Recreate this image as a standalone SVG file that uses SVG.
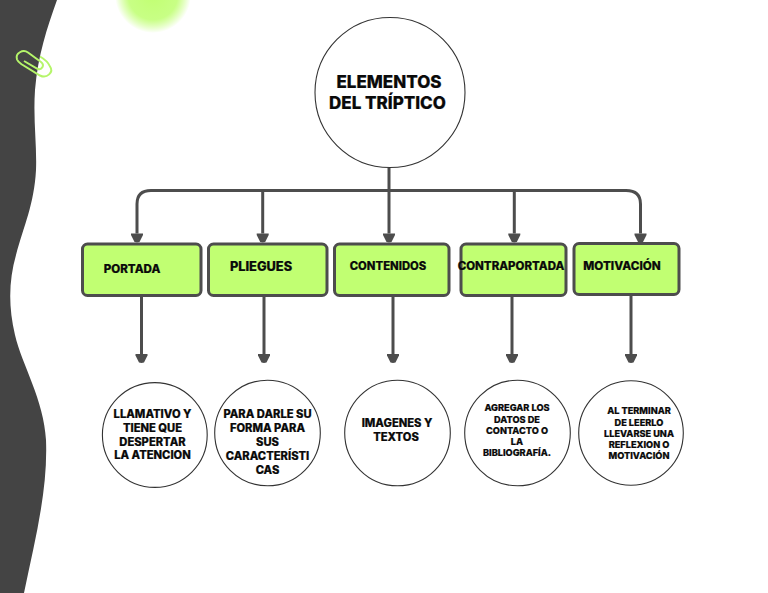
<svg xmlns="http://www.w3.org/2000/svg" width="768" height="593" viewBox="0 0 768 593">
<style>
.box{fill:#c1ff72;stroke:#4d4d4d;stroke-width:3}
.circ{fill:#fff;stroke:#333;stroke-width:1.1}
.con{fill:none;stroke:#4d4d4d;stroke-width:3}
text{font-family:"Inter","Liberation Sans",sans-serif;font-weight:800;fill:#0a0a0a;text-anchor:middle;stroke:#0a0a0a;stroke-width:.2}
.clip{fill:none;stroke:#b5f56a;stroke-width:2}
</style>
<defs>
<marker id="arrow" markerUnits="userSpaceOnUse" markerWidth="12" markerHeight="14" refX="0" refY="7" orient="auto" overflow="visible"><path d="M0 1L1.500 1L8.500 4.500L9 7L8.500 9.500L1.500 13L0 13Z" fill="#4d4d4d"/></marker>
<radialGradient id="glow"><stop offset="0" stop-color="#c1ff72"/><stop offset=".65" stop-color="#c8ff85"/><stop offset="1" stop-color="#c1ff72" stop-opacity="0"/></radialGradient>
</defs>
<rect width="768" height="593" fill="#fff"/>
<path id="sidebar" d="M0 0H57C47 28 38 55 35 90C33 120 37 145 36 170C34 205 24 225 16 255C9 280 8 305 15 335C22 365 44 400 46 440C48 490 35 540 24 593H0Z" fill="#444"/>
<circle id="glow-blob" cx="153" cy="-5" r="38" fill="url(#glow)"/>
<g id="paperclip" class="clip">
<path d="M24 61L37 68.500C42 71 45 65 41 62L28 52.500C23 49 15 53 17 59.500C18 62 20 63 22 64.500L40 75.500C47 79 54 72 50 66.500C49 64 46 60 40 56.500"/>
</g>
<g id="connectors" class="con">
<path d="M389 168V233.500" marker-end="url(#arrow)"/>
<path d="M151 190.500H626Q640.500 190.500 640.500 204V233.500" marker-end="url(#arrow)"/>
<path d="M151 190.500Q137 190.500 137 204V233.500" marker-end="url(#arrow)"/>
<path d="M262.700 190.500V233.500" marker-end="url(#arrow)"/>
<path d="M514.300 190.500V233.500" marker-end="url(#arrow)"/>
<path d="M141.500 296V354" marker-end="url(#arrow)"/>
<path d="M264 296V354" marker-end="url(#arrow)"/>
<path d="M393 296V354" marker-end="url(#arrow)"/>
<path d="M512 296V354" marker-end="url(#arrow)"/>
<path d="M631 296V354" marker-end="url(#arrow)"/>
</g>
<g id="root"><circle class="circ" cx="390" cy="92.500" r="75"/><text font-size="17" x="389" y="88">ELEMENTOS</text><text font-size="17" x="387.500" y="109">DEL TRÍPTICO</text></g>
<g id="n1"><rect class="box" x="82.500" y="244" width="118.500" height="51.500" rx="5"/><text font-size="11.600" x="132" y="272.500">PORTADA</text></g>
<g id="n2"><rect class="box" x="208.500" y="244" width="118.500" height="51.500" rx="5"/><text font-size="12.800" x="261" y="271">PLIEGUES</text></g>
<g id="n3"><rect class="box" x="334.500" y="244" width="114.500" height="51.500" rx="5"/><text font-size="11.300" x="388" y="270">CONTENIDOS</text></g>
<g id="n4"><rect class="box" x="461" y="244" width="105" height="51.500" rx="5"/><text font-size="11.500" x="511" y="270">CONTRAPORTADA</text></g>
<g id="n5"><rect class="box" x="574" y="243.500" width="105" height="51" rx="5"/><text font-size="11.700" x="622" y="270">MOTIVACIÓN</text></g>
<g id="c1"><circle class="circ" cx="154.800" cy="435" r="52.400"/><text font-size="11.200" x="152.500" y="418">LLAMATIVO Y</text><text font-size="11.200" x="152.500" y="432">TIENE QUE</text><text font-size="11.200" x="152.500" y="446">DESPERTAR</text><text font-size="11.200" x="152.500" y="459">LA ATENCION</text></g>
<g id="c2"><circle class="circ" cx="267.500" cy="433" r="52.800"/><text font-size="11.200" x="267.500" y="418">PARA DARLE SU</text><text font-size="11.200" x="267.500" y="432">FORMA PARA</text><text font-size="11.200" x="267.500" y="446">SUS</text><text font-size="11.200" x="267.500" y="460">CARACTERÍSTI</text><text font-size="11.200" x="267.500" y="474">CAS</text></g>
<g id="c3"><circle class="circ" cx="397.500" cy="433" r="52.800"/><text font-size="11.200" x="397" y="427">IMAGENES Y</text><text font-size="11.200" x="396" y="441">TEXTOS</text></g>
<g id="c4"><circle class="circ" cx="517.500" cy="433" r="52.800"/><text font-size="9.200" x="517" y="411">AGREGAR LOS</text><text font-size="9.200" x="517" y="422.500">DATOS DE</text><text font-size="9.200" x="517" y="433.500">CONTACTO O</text><text font-size="9.200" x="517" y="444.500">LA</text><text font-size="9.200" x="517" y="455.500">BIBLIOGRAFÍA.</text></g>
<g id="c5"><circle class="circ" cx="631" cy="433" r="52.300"/><text font-size="9.200" x="639" y="414">AL TERMINAR</text><text font-size="9.200" x="639" y="425.500">DE LEERLO</text><text font-size="9.200" x="639" y="436.500">LLEVARSE UNA</text><text font-size="9.200" x="639" y="448">REFLEXION O</text><text font-size="9.200" x="639" y="459">MOTIVACIÓN</text></g>
</svg>
